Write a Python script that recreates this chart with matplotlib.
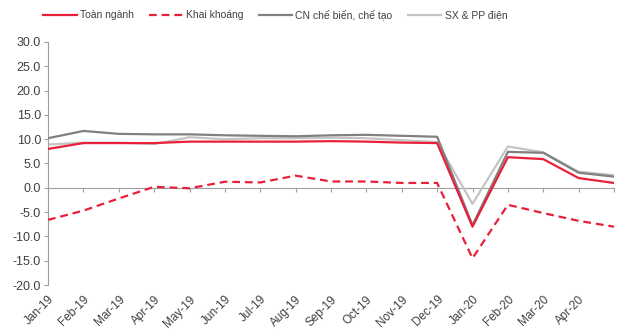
import matplotlib
matplotlib.use("Agg")
import matplotlib.pyplot as plt
from matplotlib.ticker import FormatStrFormatter

plt.rcParams['font.family'] = ['Liberation Sans', 'DejaVu Sans']

# monthly growth, % yoy (Jan-19 .. May-20)
months = ['Jan-19', 'Feb-19', 'Mar-19', 'Apr-19', 'May-19', 'Jun-19', 'Jul-19', 'Aug-19',
          'Sep-19', 'Oct-19', 'Nov-19', 'Dec-19', 'Jan-20', 'Feb-20', 'Mar-20', 'Apr-20', '']
toan_nganh = [8.0, 9.2, 9.2, 9.2, 9.5, 9.5, 9.5, 9.5, 9.6, 9.5, 9.3, 9.2, -8.0, 6.3, 5.9, 2.0, 1.0]
khai_khoang = [-6.6, -4.7, -2.2, 0.2, -0.1, 1.25, 1.1, 2.5, 1.3, 1.3, 1.0, 1.0, -14.5, -3.5, -5.2, -6.8, -8.0]
cn_che_bien = [10.2, 11.7, 11.1, 11.0, 11.0, 10.8, 10.7, 10.6, 10.8, 10.9, 10.7, 10.5, -7.7, 7.4, 7.2, 3.1, 2.3]
sx_pp_dien = [8.9, 9.3, 9.3, 9.0, 10.4, 10.0, 10.2, 10.2, 10.3, 10.2, 9.8, 9.4, -3.3, 8.5, 7.3, 3.3, 2.6]

red = '#e8203a'
dark = '#808080'
light = '#c4c4c4'
txt = '#404040'

fig = plt.figure(figsize=(6.24, 3.29), dpi=100)
ax = fig.add_axes([48/624, 1-285/329, (614-48)/624, (285-42)/329])

x = list(range(len(months)))
ax.plot(x, sx_pp_dien, color=light, lw=1.6, label='SX & PP điện', zorder=2)
ax.plot(x, cn_che_bien, color=dark, lw=1.6, label='CN chế biến, chế tạo', zorder=3)
ax.plot(x, toan_nganh, color=red, lw=1.6, label='Toàn ngành', zorder=4)
ax.plot(x, khai_khoang, color=red, lw=1.6, ls=(0, (3.5, 2.2)), label='Khai khoáng', zorder=4)

ax.set_xlim(0, len(months)-1)
ax.set_ylim(-20, 30)
ax.set_yticks(range(-20, 31, 5))
ax.yaxis.set_major_formatter(FormatStrFormatter('%.1f'))

# axis line through zero with category ticks, labels at the bottom
for s in ['top', 'right']:
    ax.spines[s].set_visible(False)
ax.spines['bottom'].set_position(('data', 0))
ax.spines['bottom'].set_color('#a0a0a0')
ax.spines['left'].set_color('#a0a0a0')
ax.spines['bottom'].set_zorder(1)
ax.set_xticks(x)
ax.tick_params(axis='x', length=3, color='#a0a0a0', labelbottom=False)
ax.tick_params(axis='y', length=3, color='#a0a0a0', labelsize=9, labelcolor=txt, pad=2)

sec = ax.secondary_xaxis('bottom')
sec.set_xticks(x)
sec.set_xticklabels(months, rotation=45, ha='right', rotation_mode='anchor')
sec.tick_params(length=0, labelsize=8.5, labelcolor=txt, pad=6)
sec.spines['bottom'].set_visible(False)

h, l = ax.get_legend_handles_labels()
order = [2, 3, 1, 0]
fig.legend([h[i] for i in order], [l[i] for i in order], loc='center left',
           bbox_to_anchor=(34/624, 1-15/329), ncol=4, frameon=False, fontsize=7.5,
           handlelength=3.2, handletextpad=0.3, columnspacing=1.5, labelcolor=txt)

fig.savefig('out.png', dpi=100)
